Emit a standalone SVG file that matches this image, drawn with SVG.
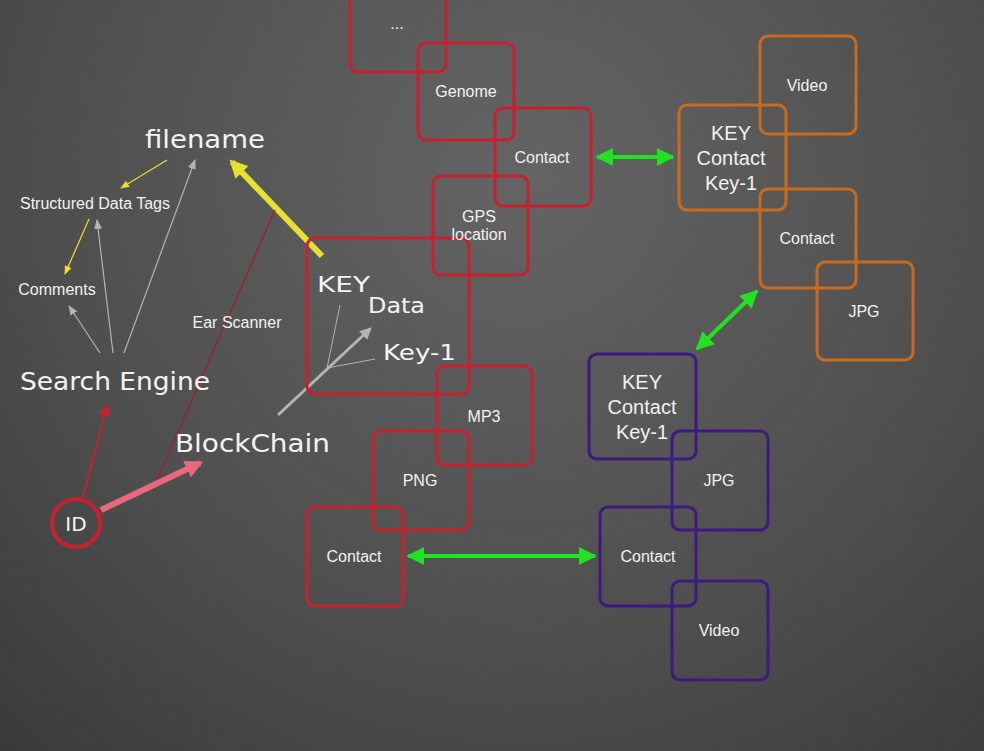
<svg xmlns="http://www.w3.org/2000/svg" width="984" height="751" viewBox="0 0 984 751">
<defs>
<radialGradient id="bg" cx="520" cy="180" r="800" gradientUnits="userSpaceOnUse">
<stop offset="0" stop-color="#646464"/>
<stop offset="0.6" stop-color="#4e4e4e"/>
<stop offset="1" stop-color="#383838"/>
</radialGradient>
<marker id="gArrow" viewBox="0 0 10 10" refX="9" refY="5" markerWidth="4.5" markerHeight="4.5" orient="auto-start-reverse" markerUnits="strokeWidth"><path d="M0,0 L10,5 L0,10 z" fill="#22e022"/></marker>
<marker id="yThin" viewBox="0 0 10 10" refX="9" refY="5" markerWidth="9" markerHeight="9" orient="auto" markerUnits="userSpaceOnUse"><path d="M0,1 L10,5 L0,9 z" fill="#f0e020"/></marker>
<marker id="yBig" viewBox="0 0 10 10" refX="8" refY="5" markerWidth="3" markerHeight="3" orient="auto" markerUnits="strokeWidth"><path d="M0,0 L10,5 L0,10 z" fill="#e8e030"/></marker>
<marker id="gray" viewBox="0 0 10 10" refX="9" refY="5" markerWidth="10" markerHeight="10" orient="auto" markerUnits="userSpaceOnUse"><path d="M0,1 L10,5 L0,9 z" fill="#b4b4b4"/></marker>
<marker id="grayBig" viewBox="0 0 10 10" refX="8" refY="5" markerWidth="4" markerHeight="4" orient="auto" markerUnits="strokeWidth"><path d="M0,0 L10,5 L0,10 z" fill="#b4b4b4"/></marker>
<marker id="red" viewBox="0 0 10 10" refX="9" refY="5" markerWidth="6" markerHeight="6" orient="auto" markerUnits="strokeWidth"><path d="M0,0 L10,5 L0,10 z" fill="#c8202e"/></marker>
<marker id="pink" viewBox="0 0 10 10" refX="8" refY="5" markerWidth="3" markerHeight="3" orient="auto" markerUnits="strokeWidth"><path d="M0,0 L10,5 L0,10 z" fill="#e8687e"/></marker>
</defs>
<style>
.r{fill:none;stroke:#c8202e;stroke-width:3}
.o{fill:none;stroke:#cc6a1c;stroke-width:3}
.p{fill:none;stroke:#3e1a7e;stroke-width:3}
.t{font-family:"Liberation Sans",Arial,sans-serif;font-size:16px;fill:#f2f2f2;text-anchor:middle}
.tb{font-family:"Liberation Sans",Arial,sans-serif;font-size:20px;fill:#f2f2f2;text-anchor:middle}
.h{font-family:"DejaVu Sans",sans-serif;fill:#f4f4f4;font-weight:normal}
.g{stroke:#22e022;stroke-width:4;fill:none}
</style>
<rect x="0" y="0" width="984" height="751" fill="url(#bg)"/>

<g id="connectors">
<line class="g" x1="597" y1="157" x2="673" y2="157" marker-start="url(#gArrow)" marker-end="url(#gArrow)"/>
<line class="g" x1="757" y1="291" x2="697" y2="349" marker-start="url(#gArrow)" marker-end="url(#gArrow)"/>
<line class="g" x1="408" y1="556" x2="595" y2="556" marker-start="url(#gArrow)" marker-end="url(#gArrow)"/>
<line x1="167" y1="160" x2="121" y2="188" stroke="#f0e020" stroke-width="1.2" marker-end="url(#yThin)"/>
<line x1="89" y1="219" x2="65" y2="274" stroke="#f0e020" stroke-width="1.2" marker-end="url(#yThin)"/>
<line x1="100" y1="353" x2="69" y2="306" stroke="#b4b4b4" stroke-width="1.2" marker-end="url(#gray)"/>
<line x1="113" y1="353" x2="97" y2="220" stroke="#b4b4b4" stroke-width="1.2" marker-end="url(#gray)"/>
<line x1="124" y1="353" x2="195" y2="160" stroke="#b4b4b4" stroke-width="1.2" marker-end="url(#gray)"/>
<line x1="322" y1="256" x2="232" y2="162" stroke="#e8e030" stroke-width="6" marker-end="url(#yBig)"/>
<line x1="275" y1="210" x2="157" y2="480" stroke="#a81a2a" stroke-width="1.2"/>
<line x1="83" y1="497" x2="107" y2="405" stroke="#c8202e" stroke-width="2" marker-end="url(#red)"/>
<line x1="101" y1="510" x2="200" y2="463" stroke="#e8687e" stroke-width="6" marker-end="url(#pink)"/>
<line x1="278" y1="415" x2="370" y2="329" stroke="#b4b4b4" stroke-width="3" marker-end="url(#grayBig)"/>
<line x1="327" y1="368" x2="340" y2="305" stroke="#b4b4b4" stroke-width="1"/>
<line x1="327" y1="368" x2="375" y2="359" stroke="#b4b4b4" stroke-width="1"/>
</g>

<g id="filename"><text class="h" x="145" y="148" font-size="24" textLength="120" lengthAdjust="spacingAndGlyphs">filename</text></g>
<g id="structured-data-tags"><text class="t" x="95" y="209">Structured Data Tags</text></g>
<g id="comments"><text class="t" x="57" y="295">Comments</text></g>
<g id="search-engine"><text class="h" x="20" y="390" font-size="24" textLength="190" lengthAdjust="spacingAndGlyphs">Search Engine</text></g>
<g id="ear-scanner"><text class="t" x="237" y="328">Ear Scanner</text></g>
<g id="blockchain"><text class="h" x="175" y="452" font-size="24" textLength="155" lengthAdjust="spacingAndGlyphs">BlockChain</text></g>
<g id="id-node"><circle cx="76" cy="523" r="24" fill="none" stroke="#c8202e" stroke-width="4"/><text class="h" x="76" y="531" font-size="20" text-anchor="middle">ID</text></g>

<g id="key-box"><rect class="r" x="307" y="238" width="162" height="156" rx="8"/>
<text class="h" x="317" y="292" font-size="22" textLength="53" lengthAdjust="spacingAndGlyphs">KEY</text>
<text class="h" x="368" y="313" font-size="22" textLength="57" lengthAdjust="spacingAndGlyphs">Data</text>
<text class="h" x="383" y="360" font-size="22" textLength="73" lengthAdjust="spacingAndGlyphs">Key-1</text></g>

<g id="dots"><rect class="r" x="350" y="-26" width="96" height="98" rx="8"/><text class="t" x="397" y="29">...</text></g>
<g id="genome"><rect class="r" x="418" y="43" width="96" height="97" rx="8"/><text class="t" x="466" y="97">Genome</text></g>
<g id="contact-red-top"><rect class="r" x="495" y="108" width="96" height="98" rx="8"/><text class="t" x="542" y="163">Contact</text></g>
<g id="gps"><rect class="r" x="433" y="176" width="95" height="99" rx="8"/><text class="t" x="479" y="222">GPS</text><text class="t" x="479" y="240">location</text></g>
<g id="mp3"><rect class="r" x="437" y="366" width="95" height="99" rx="8"/><text class="t" x="484" y="422">MP3</text></g>
<g id="png"><rect class="r" x="373" y="431" width="96" height="99" rx="8"/><text class="t" x="420" y="486">PNG</text></g>
<g id="contact-red-bottom"><rect class="r" x="307" y="507" width="96" height="99" rx="8"/><text class="t" x="354" y="562">Contact</text></g>

<g id="video-orange"><rect class="o" x="760" y="36" width="96" height="98" rx="8"/><text class="t" x="807" y="91">Video</text></g>
<g id="key-orange"><rect class="o" x="679" y="105" width="107" height="105" rx="8"/><text class="tb" x="731" y="140">KEY</text><text class="tb" x="731" y="165">Contact</text><text class="tb" x="731" y="190">Key-1</text></g>
<g id="contact-orange"><rect class="o" x="760" y="189" width="96" height="99" rx="8"/><text class="t" x="807" y="244">Contact</text></g>
<g id="jpg-orange"><rect class="o" x="817" y="262" width="96" height="98" rx="8"/><text class="t" x="864" y="317">JPG</text></g>

<g id="key-purple"><rect class="p" x="589" y="354" width="107" height="105" rx="8"/><text class="tb" x="642" y="389">KEY</text><text class="tb" x="642" y="414">Contact</text><text class="tb" x="642" y="439">Key-1</text></g>
<g id="jpg-purple"><rect class="p" x="672" y="431" width="96" height="99" rx="8"/><text class="t" x="719" y="486">JPG</text></g>
<g id="contact-purple"><rect class="p" x="600" y="507" width="96" height="99" rx="8"/><text class="t" x="648" y="562">Contact</text></g>
<g id="video-purple"><rect class="p" x="672" y="581" width="96" height="99" rx="8"/><text class="t" x="719" y="636">Video</text></g>
</svg>
